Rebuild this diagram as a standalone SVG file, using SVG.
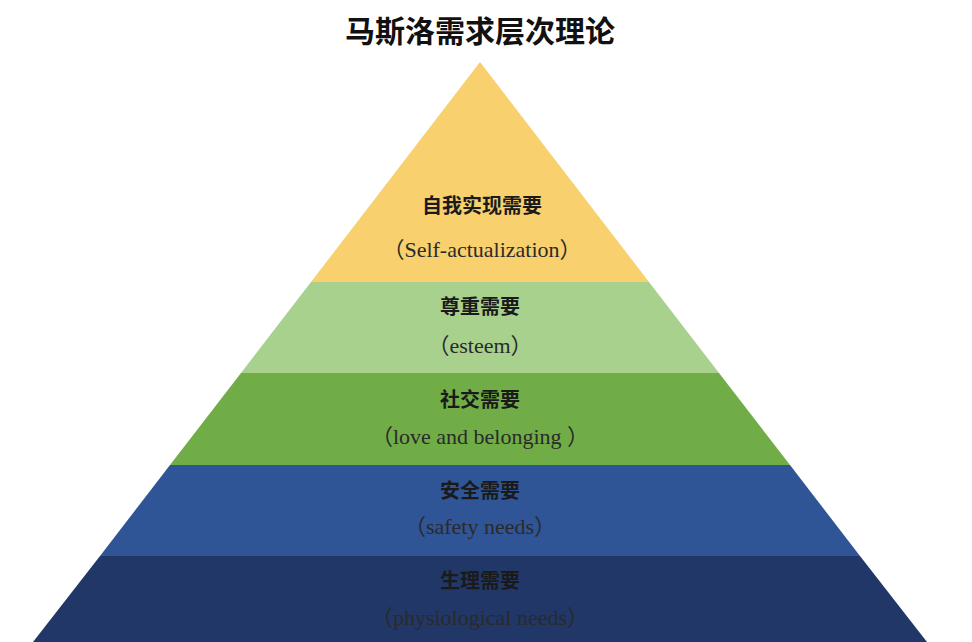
<svg xmlns="http://www.w3.org/2000/svg" width="972" height="642" viewBox="0 0 972 642">
<style>
.cn{font-family:"Noto Sans CJK SC",sans-serif;font-weight:bold;font-size:20px;fill:#1a1a1a;text-anchor:middle}
.en{font-family:"Liberation Serif","Noto Sans CJK SC",serif;font-size:22px;fill:#2a2a2a;text-anchor:middle}
</style>
<rect width="972" height="642" fill="#fff"/>
<text x="480" y="42" style="font-family:'Noto Sans CJK SC',sans-serif;font-weight:bold;font-size:30px;fill:#111;text-anchor:middle">马斯洛需求层次理论</text>
<g id="level5"><polygon points="480,62 311,282 649,282" fill="#F8D06D"/>
<text class="cn" x="482" y="213">自我实现需要</text><text class="en" x="482" y="257">（Self-actualization）</text></g>
<g id="level4"><polygon points="311,282 241,373 719,373 649,282" fill="#A9D18E"/>
<text class="cn" x="480" y="314">尊重需要</text><text class="en" x="480" y="353">（esteem）</text></g>
<g id="level3"><polygon points="241,373 170,465 790,465 719,373" fill="#70AD47"/>
<text class="cn" x="480" y="407">社交需要</text><text class="en" x="480" y="444">（love and belonging ）</text></g>
<g id="level2"><polygon points="170,465 100,556 860,556 790,465" fill="#2F5597"/>
<text class="cn" x="480" y="498">安全需要</text><text class="en" x="480" y="534">（safety needs）</text></g>
<g id="level1"><polygon points="100,556 33,642 927,642 860,556" fill="#213767"/>
<text class="cn" x="480" y="588">生理需要</text><text class="en" x="480" y="625">（physiological needs）</text></g>
<g id="connectors"/>
</svg>
